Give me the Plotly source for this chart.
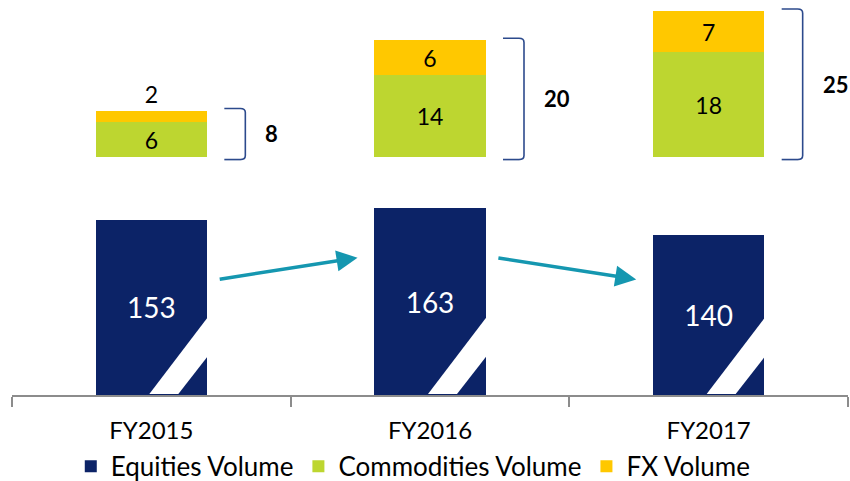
import plotly.graph_objects as go

categories = ["FY2015", "FY2016", "FY2017"]
equities = [153, 163, 140]
commodities = [6, 14, 18]
fx = [2, 6, 7]
totals = [c + f for c, f in zip(commodities, fx)]

NAVY = "#0C2367"
GREEN = "#BDD630"
YELLOW = "#FFC800"
TEAL = "#1597B0"
BRACKET = "#2C4A8C"
FONT = "Lato"

fig = go.Figure()
fig.add_trace(go.Bar(
    x=categories, y=equities, name="Equities Volume", marker_color=NAVY,
    marker_line_width=0, text=[str(v) for v in equities], textposition="inside",
    insidetextanchor="middle", constraintext="none",
    textfont=dict(color="white", size=28, family=FONT), yaxis="y"))
fig.add_trace(go.Bar(
    x=categories, y=commodities, name="Commodities Volume", marker_color=GREEN,
    marker_line_width=0, text=[str(v) for v in commodities], textposition="inside",
    insidetextanchor="middle", constraintext="none",
    textfont=dict(color="black", size=23, family=FONT), yaxis="y2"))
fig.add_trace(go.Bar(
    x=categories, y=fx, name="FX Volume", marker_color=YELLOW,
    marker_line_width=0, text=[str(v) for v in fx], textposition="auto",
    insidetextanchor="middle", constraintext="none", cliponaxis=False,
    textfont=dict(color="black", size=23, family=FONT), yaxis="y2"))

shapes = []
annotations = []
for i, cat in enumerate(categories):
    # white diagonal break stripe on each equities bar
    shapes.append(dict(type="path", xref="x", yref="y", xsizemode="pixel", xanchor=i,
                       path="M -2,0.8 L 27,0.8 L 57,34.5 L 57,68.6 Z",
                       fillcolor="white", line=dict(width=0), layer="above"))
    # bracket next to the stacked bars
    t = totals[i] + 0.35
    b = -0.4
    shapes.append(dict(type="path", xref="x", yref="y2", xsizemode="pixel", xanchor=i,
                       path=f"M 73,{t} L 89,{t} Q 94,{t} 94,{t-0.7} L 94,{b+0.7} Q 94,{b} 89,{b} L 73,{b}",
                       line=dict(color=BRACKET, width=1.6), layer="above"))
    annotations.append(dict(x=i, y=totals[i] / 2, xref="x", yref="y2", text=f"<b>{totals[i]}</b>",
                            showarrow=False, xanchor="left", yanchor="middle", xshift=112,
                            font=dict(size=22, color="black", family=FONT)))

ARROW_LOW, ARROW_HIGH = 101, 120
for i in range(len(categories) - 1):
    up = equities[i + 1] > equities[i]
    y_tail = ARROW_LOW if up else ARROW_HIGH
    y_head = ARROW_HIGH if up else ARROW_LOW
    annotations.append(dict(x=i + 0.74, y=y_head, ax=i + 0.24, ay=y_tail,
                            xref="x", yref="y", axref="x", ayref="y", text="",
                            showarrow=True, arrowhead=2, arrowsize=1.2, arrowwidth=3.5,
                            arrowcolor=TEAL, standoff=0))

fig.update_layout(
    width=850, height=481,
    margin=dict(l=12, r=2, t=0, b=86, autoexpand=False),
    paper_bgcolor="white", plot_bgcolor="white",
    barmode="stack", bargap=0.6,
    font=dict(family=FONT, color="black"),
    showlegend=True,
    legend=dict(orientation="h", x=0.48, xanchor="center", y=-0.121, yanchor="top",
                font=dict(size=26, family=FONT, color="black"), itemwidth=30,
                traceorder="normal"),
    xaxis=dict(type="category", categoryorder="array", categoryarray=categories,
               range=[-0.5, 2.5], tickson="boundaries", ticks="outside", ticklen=10,
               tickcolor="#8C8C8C", tickwidth=1.5, showline=True, linecolor="#8C8C8C",
               linewidth=2, showgrid=False, zeroline=False, anchor="y", automargin=False,
               tickfont=dict(size=24, family=FONT, color="black"), ticklabelstandoff=13),
    yaxis=dict(domain=[0, 0.507], range=[0, 175], visible=False, showgrid=False),
    yaxis2=dict(domain=[0.5929, 1], range=[-0.6, 26.9], visible=False, showgrid=False,
                anchor="x"),
    shapes=shapes, annotations=annotations,
)

fig.write_html("out.html")
